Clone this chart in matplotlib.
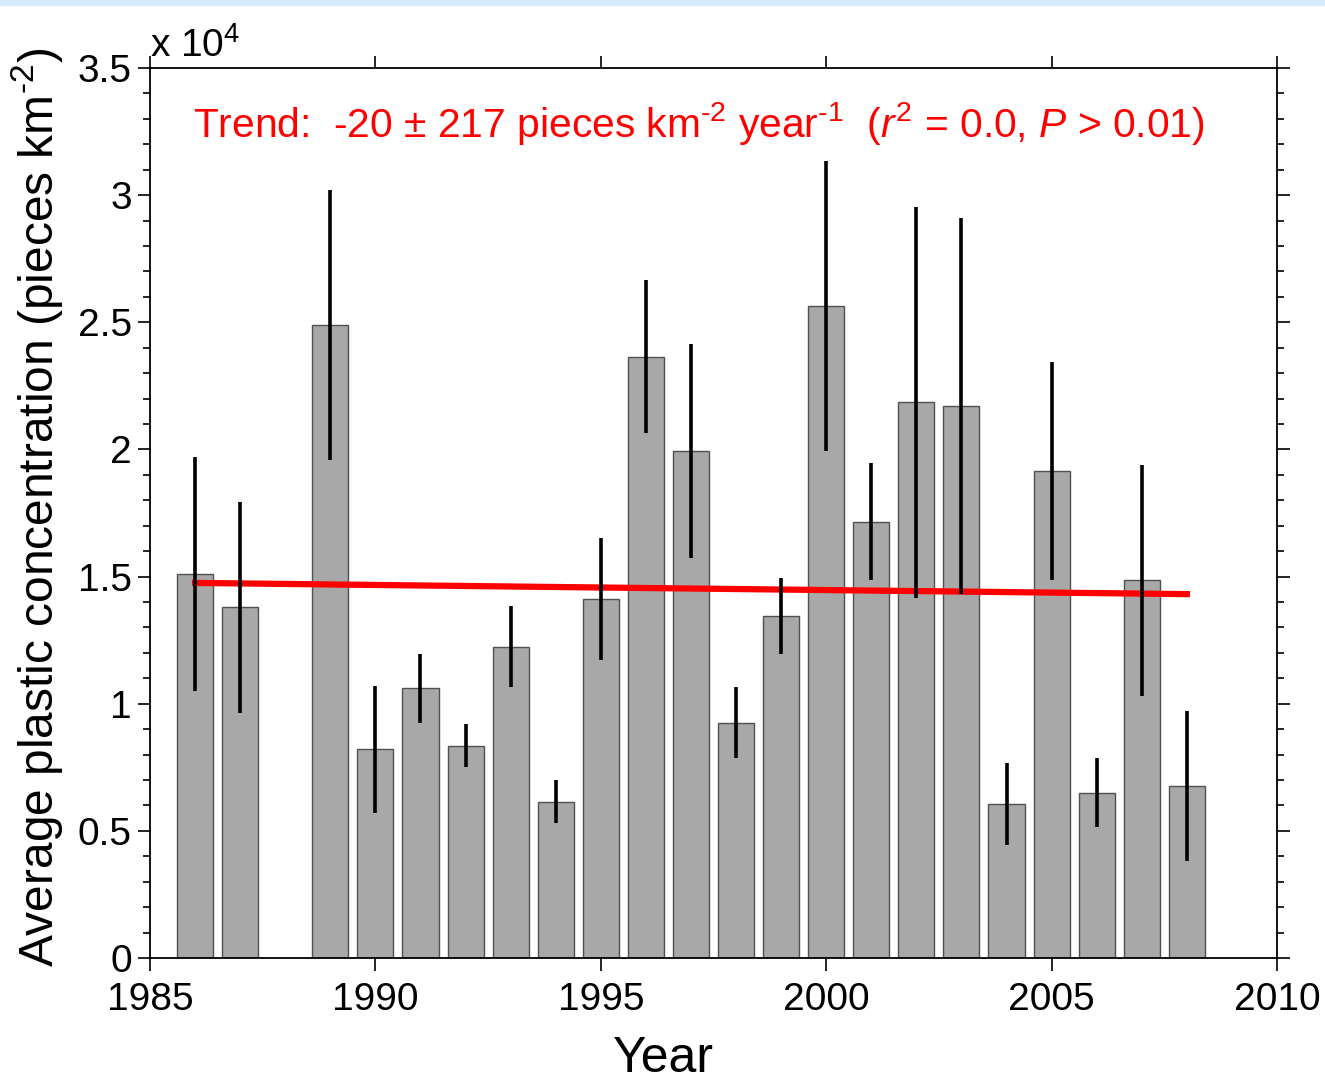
import numpy as np
import matplotlib
matplotlib.use('Agg')
import matplotlib.pyplot as plt
from matplotlib.ticker import MultipleLocator, FuncFormatter
from matplotlib.patches import Rectangle

plt.rcParams['font.family'] = ['Liberation Sans', 'DejaVu Sans']
plt.rcParams['mathtext.fontset'] = 'custom'
plt.rcParams['mathtext.rm'] = 'Liberation Sans'
plt.rcParams['mathtext.it'] = 'Liberation Sans:italic'
plt.rcParams['mathtext.default'] = 'regular'

# data (pieces km^-2); 1988 has no survey
years = [1986, 1987, 1989, 1990, 1991, 1992, 1993, 1994, 1995, 1996, 1997,
         1998, 1999, 2000, 2001, 2002, 2003, 2004, 2005, 2006, 2007, 2008]
conc = [15100, 13800, 24900, 8200, 10600, 8350, 12250, 6150, 14100, 23650, 19950,
        9250, 13450, 25650, 17150, 21850, 21700, 6050, 19150, 6500, 14850, 6750]
err = [4600, 4150, 5300, 2500, 1350, 850, 1600, 850, 2400, 3000, 4200,
       1400, 1500, 5700, 2300, 7700, 7400, 1600, 4300, 1350, 4550, 2950]
trend_start = 14750   # fitted value in 1986
trend_slope = -20     # pieces km^-2 year^-1
trend_years = [1986, 2008]

fig = plt.figure(figsize=(13.25, 10.81), dpi=100)
fig.patches.append(Rectangle((0, 1 - 5 / 1081), 1, 5 / 1081, transform=fig.transFigure,
                             color='#d9ecfd', zorder=0))
ax = fig.add_axes([150 / 1325, 123 / 1081, 1127 / 1325, 890 / 1081])

ax.bar(years, conc, width=0.8, color='#a8a8a8', edgecolor='#505050', linewidth=1.0, zorder=2)
ty = np.array(trend_years)
ax.plot(ty, trend_start + trend_slope * (ty - trend_years[0]), color='red', lw=4.5, zorder=3)
ax.errorbar(years, conc, yerr=err, fmt='none', ecolor='black', elinewidth=2.6,
            capsize=0, zorder=4)

ax.set_xlim(1985, 2010)
ax.set_ylim(0, 35000)
ax.xaxis.set_major_locator(MultipleLocator(5))
ax.yaxis.set_major_locator(MultipleLocator(5000))
ax.yaxis.set_minor_locator(MultipleLocator(1000))
ax.yaxis.set_major_formatter(FuncFormatter(lambda v, p: ('%g' % (v / 1e4))))

ax.tick_params(axis='both', which='both', direction='out', labelsize=28, width=1.2)
ax.tick_params(axis='x', which='major', top=True, length=9, pad=8)
ax.tick_params(axis='y', which='major', right=True, length=9, pad=4)
ax.tick_params(axis='y', which='minor', right=True, length=5)
for s in ax.spines.values():
    s.set_linewidth(1.3)

ax.set_xlabel('Year', fontsize=36)
ax.xaxis.set_label_coords((663 - 150) / 1127, -0.088)
ax.set_ylabel('Average plastic concentration (pieces km$^{\\text{-2}}$)', fontsize=34.5)
ax.yaxis.set_label_coords(-0.075, (1081 - 123 - (965 + 50) / 2) / 890)

fig.text(150 / 1325, 1 - 57 / 1081, 'x 10$^{4}$', fontsize=28, ha='left', va='baseline')

fig.text(193 / 1325, 1 - 137 / 1081,
         'Trend:  -20 $\\pm$ 217 pieces km$^{\\text{-2}}$ year$^{\\text{-1}}$  '
         '($\\mathit{r}^{2}$ = 0.0, $\\mathit{P}$ > 0.01)',
         color='red', fontsize=29.3, ha='left', va='baseline')

fig.savefig('out.png', dpi=100)
